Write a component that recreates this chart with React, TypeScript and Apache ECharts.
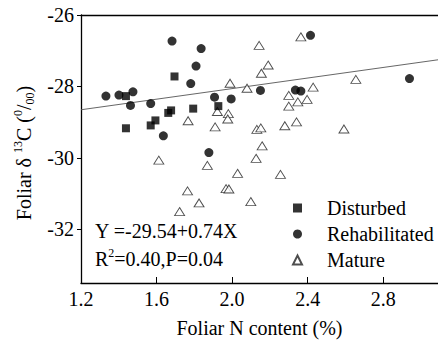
import React, { useEffect, useRef } from "react";
import * as echarts from "echarts";

// [Foliar N content (%), Foliar δ13C (‰)]
const disturbed: [number, number][] = [
  [1.438, -28.27], [1.438, -29.17], [1.569, -29.09], [1.594, -28.95],
  [1.662, -28.74], [1.677, -28.67], [1.695, -27.72], [1.794, -28.62],
  [1.927, -28.55],
];
const rehabilitated: [number, number][] = [
  [1.332, -28.27], [1.401, -28.24], [1.475, -28.15], [1.462, -28.53],
  [1.569, -28.48], [1.636, -29.38], [1.682, -26.73], [1.781, -27.92],
  [1.809, -27.43], [1.836, -26.94], [1.907, -28.30], [1.877, -29.85],
  [1.995, -28.35], [2.150, -28.11], [2.335, -28.10], [2.364, -28.13],
  [2.415, -26.57], [2.939, -27.78],
];
const mature: [number, number][] = [
  [1.612, -30.06], [1.767, -28.96], [1.869, -30.21], [1.922, -28.70],
  [1.910, -29.13], [1.980, -28.76], [1.977, -28.91], [1.989, -27.91],
  [2.079, -28.05], [2.143, -26.85], [2.191, -27.40], [2.155, -27.63],
  [2.364, -26.61], [2.131, -29.20], [2.152, -29.16], [2.279, -29.10],
  [2.341, -28.99], [2.300, -28.25], [2.348, -28.43], [2.397, -28.36],
  [2.429, -28.02], [2.300, -28.55], [2.655, -27.80], [2.592, -29.19],
  [2.159, -29.66], [2.127, -30.01], [2.029, -30.43], [2.256, -30.46],
  [1.764, -30.92], [1.825, -31.26], [1.722, -31.50], [1.968, -30.86],
  [1.983, -30.87], [2.099, -31.22],
];
const xTicks = [1.2, 1.6, 2.0, 2.4, 2.8];
const yTicks = [-32, -30, -28, -26];
const xRange = [1.2, 3.09];
const yRange = [-33.5, -26];
const fitIntercept = -29.54;
const fitSlope = 0.74;
const equationText = "Y =-29.54+0.74X";
const statsText = "{n|R}{sup|2}{n|=0.40,P=0.04}";
const yTitle = "{n|Foliar δ }{sup|13}{n|C (}{sup|0}{n|/}{sub|00}{n|)}";

const FONT = "'Liberation Serif', 'Times New Roman', serif";

export default function App() {
  const ref = useRef<HTMLDivElement>(null);
  useEffect(() => {
    if (!ref.current) return;
    const chart = echarts.init(ref.current, undefined, { renderer: "svg" });
    const fitLine = xRange.map((x) => [x, fitIntercept + fitSlope * x]);
    const axisLineStyle = { color: "#000", width: 1.3 };
    const richStyles = {
      n: { fontSize: 20, fontFamily: FONT, fill: "#000", lineHeight: 24 },
      sup: { fontSize: 12, fontFamily: FONT, fill: "#000", lineHeight: 13, verticalAlign: "top" },
      sub: { fontSize: 12, fontFamily: FONT, fill: "#000", lineHeight: 13, verticalAlign: "bottom" },
    };
    chart.setOption({
      animation: false,
      backgroundColor: "#fff",
      grid: { left: 81, top: 15, right: 0, bottom: 62 },
      legend: {
        orient: "vertical",
        left: 292,
        top: 198,
        padding: 0,
        itemWidth: 9,
        itemHeight: 9,
        itemGap: 6,
        data: ["Disturbed", "Rehabilitated", "Mature"],
        textStyle: { fontSize: 20, fontFamily: FONT, color: "#000", padding: [0, 0, 0, 20] },
      },
      xAxis: [
        {
          type: "value",
          min: xRange[0],
          max: xRange[1],
          name: "Foliar N content (%)",
          nameLocation: "middle",
          nameGap: 35,
          nameTextStyle: { fontSize: 20, fontFamily: FONT, color: "#000" },
          axisLine: { show: true, onZero: false, lineStyle: axisLineStyle },
          axisTick: { show: true, inside: true, length: 6, customValues: xTicks, lineStyle: { color: "#000" } },
          axisLabel: {
            customValues: xTicks,
            formatter: (v: number) => v.toFixed(1),
            fontSize: 20,
            fontFamily: FONT,
            color: "#000",
            margin: 6,
          },
          splitLine: { show: false },
        },
        {
          type: "value",
          position: "top",
          min: xRange[0],
          max: xRange[1],
          axisLine: { show: true, onZero: false, lineStyle: axisLineStyle },
          axisTick: { show: false },
          axisLabel: { show: false },
          splitLine: { show: false },
        },
      ],
      yAxis: {
        type: "value",
        min: yRange[0],
        max: yRange[1],
        axisLine: { show: true, onZero: false, lineStyle: axisLineStyle },
        axisTick: { show: true, inside: false, length: 4, customValues: yTicks, lineStyle: { color: "#000" } },
        axisLabel: {
          customValues: yTicks,
          fontSize: 20,
          fontFamily: FONT,
          color: "#000",
          margin: 7,
        },
        splitLine: { show: false },
      },
      graphic: [
        {
          type: "text",
          x: 24,
          y: 153,
          rotation: Math.PI / 2,
          style: {
            text: yTitle,
            fontSize: 20,
            fontFamily: FONT,
            fill: "#000",
            align: "center",
            verticalAlign: "middle",
            rich: richStyles,
          },
        },
        {
          type: "text",
          x: 95,
          y: 231,
          style: { text: equationText, fontSize: 20, fontFamily: FONT, fill: "#000", verticalAlign: "middle" },
        },
        {
          type: "text",
          x: 95,
          y: 259,
          style: {
            text: statsText,
            fontSize: 20,
            fontFamily: FONT,
            fill: "#000",
            verticalAlign: "middle",
            rich: richStyles,
          },
        },
      ],
      series: [
        {
          type: "line",
          data: fitLine,
          symbol: "none",
          lineStyle: { color: "#555", width: 0.9 },
          silent: true,
          z: 1,
        },
        {
          name: "Mature",
          type: "scatter",
          data: mature,
          symbol: "triangle",
          symbolSize: [10, 8],
          itemStyle: { color: "#fff", borderColor: "#222", borderWidth: 0.9 },
          z: 2,
        },
        {
          name: "Rehabilitated",
          type: "scatter",
          data: rehabilitated,
          symbol: "circle",
          symbolSize: 9,
          itemStyle: { color: "#000" },
          z: 3,
        },
        {
          name: "Disturbed",
          type: "scatter",
          data: disturbed,
          symbol: "rect",
          symbolSize: 8,
          itemStyle: { color: "#000" },
          z: 4,
        },
      ],
    });
    return () => chart.dispose();
  }, []);
  return <div ref={ref} style={{ width: 438, height: 345, position: "absolute", left: 0, top: 0 }} />;
}
